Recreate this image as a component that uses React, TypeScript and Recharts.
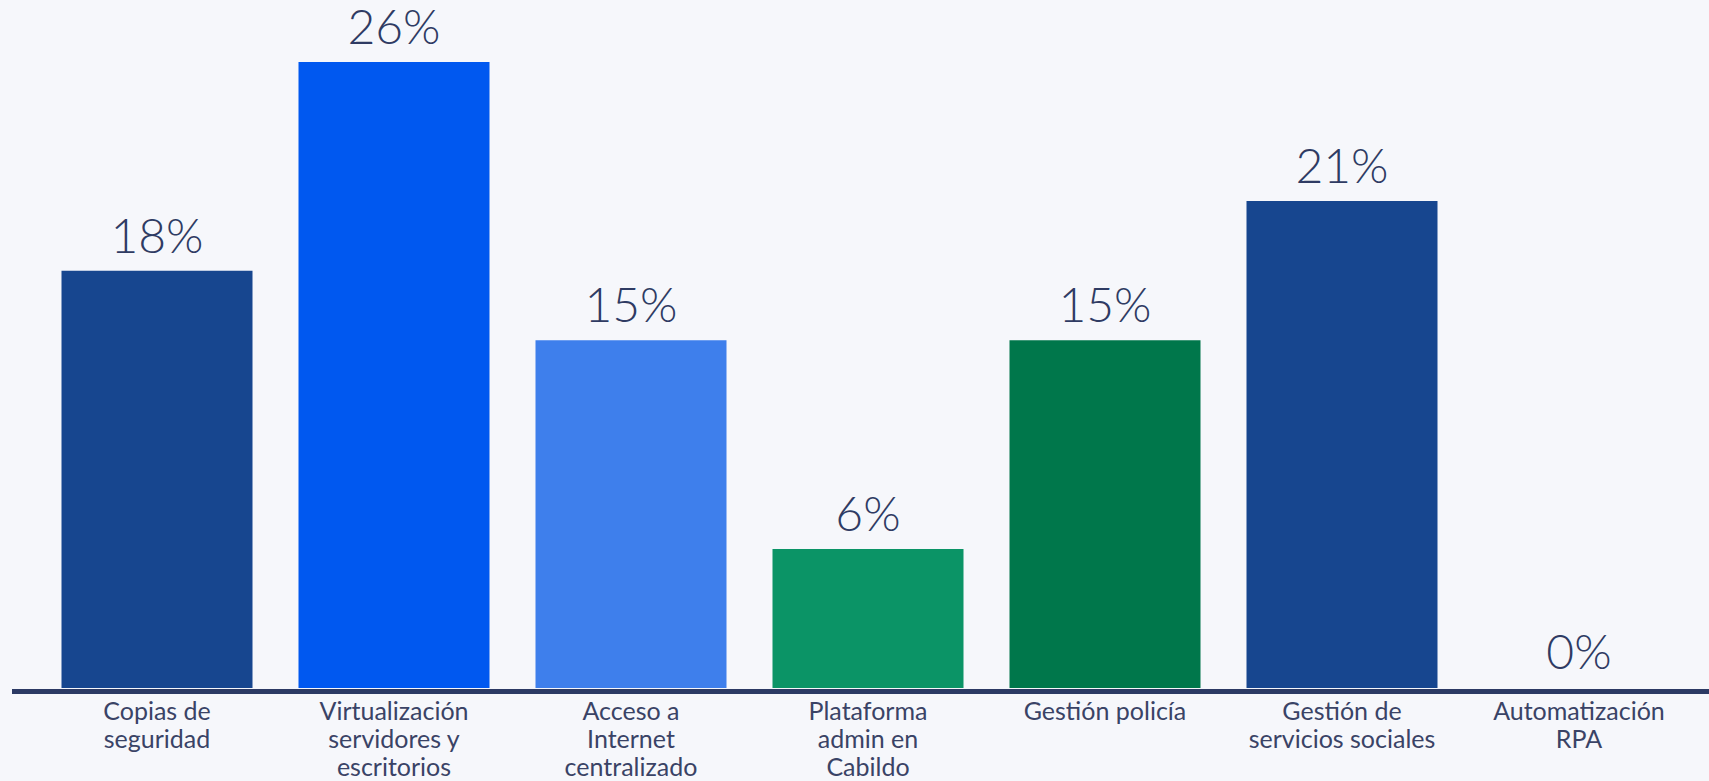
import { BarChart, Bar, XAxis, YAxis, Cell, LabelList } from "recharts";

// categories, line breaks as shown under the axis
const categories = [
  "Copias de\nseguridad",
  "Virtualización\nservidores y\nescritorios",
  "Acceso a\nInternet\ncentralizado",
  "Plataforma\nadmin en\nCabildo",
  "Gestión policía",
  "Gestión de\nservicios sociales",
  "Automatización\nRPA",
];
// bar heights (%)
const values = [18, 27, 15, 6, 15, 21, 0];
// printed labels
const valueLabels = ["18%", "26%", "15%", "6%", "15%", "21%", "0%"];
const barColors = ["#17468f", "#0058f0", "#3e7fec", "#0b9466", "#00774b", "#17468f", "transparent"];

const data = categories.map((name, i) => ({
  name,
  value: values[i],
  label: valueLabels[i],
}));

const FONT = "Lato, 'Open Sans', sans-serif";

function MultiLineTick({ x, y, payload }: any) {
  const lines = String(payload.value).split("\n");
  return (
    <text
      x={x}
      y={y}
      textAnchor="middle"
      fill="#3a4366"
      fontSize={25}
      fontFamily={FONT}
    >
      {lines.map((line, i) => (
        <tspan key={i} x={x} dy={i === 0 ? 23.5 : 28}>
          {line}
        </tspan>
      ))}
    </text>
  );
}

export default function App() {
  return (
    <div style={{ width: 1709, height: 781, background: "#f6f7fb" }}>
      <style>{"body{margin:0;background:#f6f7fb}"}</style>
      <BarChart
        width={1709}
        height={781}
        data={data}
        margin={{ top: 62, right: 0, bottom: 0, left: 12 }}
        barCategoryGap={23}
      >
        <XAxis
          dataKey="name"
          interval={0}
          height={93}
          tickLine={false}
          padding={{ left: 26.5, right: 11.5 }}
          axisLine={{ stroke: "#2c3a64", strokeWidth: 5, transform: "translate(0,3.5)" }}
          tick={<MultiLineTick />}
        />
        <YAxis hide domain={[0, 27]} />
        <Bar dataKey="value" isAnimationActive={false} minPointSize={1}>
          {data.map((d, i) => (
            <Cell key={d.name} fill={barColors[i]} />
          ))}
          <LabelList
            dataKey="label"
            position="top"
            offset={18}
            fill="#2f3b63"
            fontSize={48}
            fontWeight={300}
            fontFamily={FONT}
          />
        </Bar>
      </BarChart>
    </div>
  );
}
